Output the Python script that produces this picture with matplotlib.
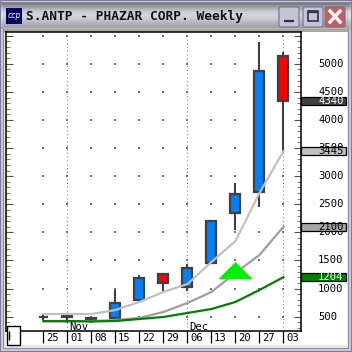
"""Weekly candlestick chart of S.ANTP inside a small desktop-style window."""
import matplotlib
matplotlib.use("Agg")
import matplotlib.pyplot as plt
import numpy as np
from matplotlib.patches import FancyBboxPatch, Rectangle

TITLE = "S.ANTP - PHAZAR CORP. Weekly"
WEEK_LABELS = ["25", "01", "08", "15", "22", "29", "06", "13", "20", "27", "03"]
MONTH_LABELS = {1: "Nov", 6: "Dec"}
MONTH_LINES = [1, 6, 10]
PRICE_TICKS = [500, 1000, 1500, 2000, 2500, 3000, 3500, 4000, 4500, 5000]
PRICE_TEXT = [500, 1000, 1500, 2000, 2500, 3000, 3500, 4000, 4500, 5000]

OPEN = [503, 495, 477, 477, 797, 1260, 1029, 1456, 2346, 2720, 5140]
CLOSE = [503, 512, 459, 744, 1189, 1100, 1367, 2203, 2684, 4873, 4340]
HIGH = [548, 512, 477, 975, 1242, 1260, 1438, 2203, 2880, 5390, 5212]
LOW = [441, 388, 388, 423, 797, 957, 957, 1456, 2043, 2453, 3430]

MA_FAST = [548, 548, 548, 619, 762, 940, 1082, 1474, 1847, 2702, 3445]
MA_MID = [415, 415, 423, 441, 477, 584, 744, 940, 1278, 1598, 2100]
MA_SLOW = [423, 423, 415, 423, 459, 495, 566, 637, 762, 975, 1204]

SIGNAL_WEEK = 8
SIGNAL_PRICE = 1322

BADGES = [
    (4340, "#404040", "white"),
    (3445, "#c0c0c0", "black"),
    (2100, "#a8a4a8", "black"),
    (1204, "#008000", "white"),
]

FONT = "DejaVu Sans Mono"
LABEL_SIZE = 7.6

fig = plt.figure(figsize=(3.52, 3.52), dpi=100)

# window chrome, in pixel coordinates
bg = fig.add_axes([0, 0, 1, 1])
bg.axis("off")
bg.add_patch(Rectangle((0, 0), 352, 352, fc="#7c7c9c", ec="none"))
bg.add_patch(Rectangle((1, 1), 350, 350, fc="#c8c8d8", ec="none"))
bg.add_patch(Rectangle((3, 3), 346, 346, fc="#8c8cac", ec="none"))
bg.add_patch(Rectangle((4, 28), 344, 320, fc="#ece9d8", ec="none"))

grad = np.array([0.45, 0.62, 0.78, 0.9, 0.93, 0.88, 0.8, 0.72, 0.66]).reshape(-1, 1)
bg.imshow(grad, cmap="gray", vmin=0, vmax=1, extent=(1, 351, 29, 2), aspect="auto",
          interpolation="bilinear", zorder=1, alpha=0.75)
bg.set_xlim(0, 352)
bg.set_ylim(352, 0)
bg.add_patch(Rectangle((4, 29), 344, 3, fc="#a8a8a0", ec="none", zorder=2))
bg.add_patch(Rectangle((6, 32), 341, 313, fc="white", ec="none", zorder=2))

bg.add_patch(Rectangle((6, 8), 16, 16, fc="#000060", ec="none", zorder=3))
bg.text(14, 15.5, "ccp", color="white", fontsize=5.5, style="italic",
        ha="center", va="center", zorder=4)
bg.text(25.5, 16.5, TITLE, family=FONT, fontweight="bold", fontsize=9.3, color="#101018",
        ha="left", va="center", zorder=4)

for x0, col in [(279, "#c4c4d8"), (303, "#c4c4d8"), (325, "#cc5c5c")]:
    bg.add_patch(FancyBboxPatch((x0 + 2, 9), 16, 16, boxstyle="round,pad=2",
                                fc=col, ec="#70708c", lw=0.8, zorder=3))
bg.plot([284, 294], [21, 21], color="#303040", lw=1.6, zorder=4, solid_capstyle="butt")
bg.add_patch(Rectangle((308, 11), 10, 10, fc="none", ec="#303050", lw=1.2, zorder=4))
bg.plot([308, 318], [12, 12], color="#303050", lw=1.6, zorder=4, solid_capstyle="butt")
bg.plot([330, 340], [11, 22], color="white", lw=2.4, zorder=4)
bg.plot([330, 340], [22, 11], color="white", lw=2.4, zorder=4)

# price panel, 24 px per week and 0.0562 px per price unit
ax = fig.add_axes([6 / 352, 1 - 331.3 / 352, 294.5 / 352, 299.3 / 352], zorder=2)
ax.patch.set_alpha(0)
for s in ax.spines.values():
    s.set_linewidth(1.1)
    s.set_color("black")

weeks = np.arange(len(WEEK_LABELS))
ax.set_xticks([])
ax.set_yticks(np.arange(300, 5566, 100), minor=True)
ax.set_yticks(PRICE_TICKS + [5500])
ax.set_yticklabels([])
ax.tick_params(axis="y", which="major", direction="in", length=5, width=0.8, color="#505050",
               left=True, right=True)
ax.tick_params(axis="y", which="minor", direction="in", length=3, width=0.8, color="#808080",
               left=True, right=True)

# dots on the week / price grid, dotted lines at month changes
for w in weeks:
    ax.scatter([w] * (len(PRICE_TICKS) + 1), PRICE_TICKS + [5500], s=0.7, marker="s",
               color="#707070", linewidths=0, zorder=1)
for w in MONTH_LINES:
    ax.axvline(w, color="#808080", lw=0.8, ls=(0, (1, 2.4)), zorder=1)

ax.plot(weeks, MA_FAST, color="#c0c0c0", lw=1.6, zorder=3)
ax.plot(weeks, MA_MID, color="#a09ca4", lw=1.6, zorder=4)
ax.plot(weeks, MA_SLOW, color="#008000", lw=1.6, zorder=5)
ax.scatter([SIGNAL_WEEK], [SIGNAL_PRICE], marker=[(-1, -0.5), (1, -0.5), (0, 0.5)], s=600,
           color="#00f000", linewidths=0, zorder=6)

edge = "#404040"
ax.vlines(weeks, LOW, HIGH, color=edge, lw=1.5, zorder=2)
for w, o, c in zip(weeks, OPEN, CLOSE):
    if o == c:
        ax.hlines(o, w - 0.2, w + 0.2, color=edge, lw=1.6, zorder=2)
        continue
    ax.bar(w, abs(c - o), bottom=min(o, c), width=0.42, zorder=2,
           color="#0080ff" if c > o else "#ff0000", edgecolor=edge, linewidth=1.6)
ax.set_xlim(-1.56, 10.71)
ax.set_ylim(240, 5566)

# texts at the right and along the bottom, placed through the panel's scales
label_tr = ax.get_yaxis_transform()
for p in PRICE_TEXT:
    ax.text(1.06, p, str(p), transform=label_tr, family=FONT, fontsize=LABEL_SIZE, color="black",
            ha="left", va="center", clip_on=False, zorder=3)
for p, fc, tc in BADGES:
    ax.add_patch(Rectangle((1.002, p - 75), 0.154, 150, transform=label_tr, fc=fc, ec="black",
                           lw=0.9, clip_on=False, zorder=7))
    ax.text(1.06, p, str(p), transform=label_tr, family=FONT, fontsize=LABEL_SIZE, color=tc,
            ha="left", va="center", clip_on=False, zorder=8)

week_tr = ax.get_xaxis_transform()
strip = 14 / 299.3
for w, lab in zip(weeks, WEEK_LABELS):
    ax.plot([w, w], [0, -strip * 0.85], transform=week_tr, color="black", lw=0.9, clip_on=False,
            solid_capstyle="butt")
    ax.text(w + 0.11, -strip * 0.5, lab, transform=week_tr, family=FONT, fontsize=LABEL_SIZE,
            ha="left", va="center", clip_on=False)
for w, lab in MONTH_LABELS.items():
    ax.text(w + 0.07, 0.014, lab, transform=week_tr, family=FONT, fontsize=LABEL_SIZE,
            ha="left", va="center", zorder=7)

# small scroller box at the lower left corner, above the panel
top = fig.add_axes([0, 0, 1, 1], zorder=3)
top.set_xlim(0, 352)
top.set_ylim(352, 0)
top.axis("off")
top.add_patch(Rectangle((6.5, 325.5), 13, 19.5, fc="white", ec="black", lw=1.0))
top.plot([8.5, 8.5], [331, 340], color="black", lw=1.0, solid_capstyle="butt")

fig.savefig("out.png", dpi=100)
